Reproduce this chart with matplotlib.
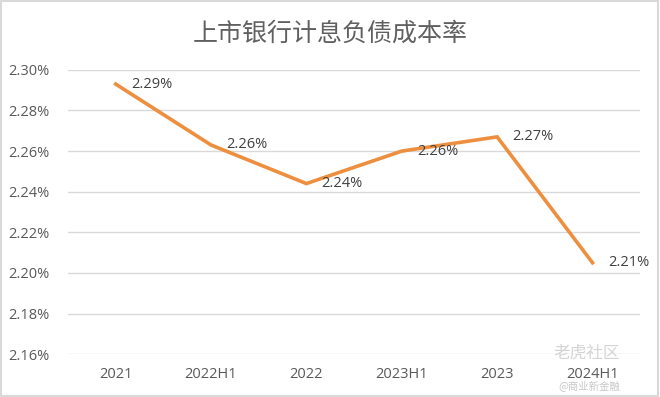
import matplotlib.pyplot as plt
from matplotlib.patches import Rectangle
from matplotlib.ticker import FuncFormatter

plt.rcParams['font.family'] = ['Open Sans', 'Noto Sans CJK SC', 'DejaVu Sans']

periods = ["2021", "2022H1", "2022", "2023H1", "2023", "2024H1"]
rates = [2.293, 2.263, 2.244, 2.260, 2.267, 2.205]
y_ticks = [2.16, 2.18, 2.20, 2.22, 2.24, 2.26, 2.28, 2.30]

LINE = "#ED8F3F"
TEXT = "#595959"

fig = plt.figure(figsize=(6.6, 3.97), dpi=100)
ax = fig.add_axes([0.103, 0.108, 0.867, 0.716])

x = list(range(len(periods)))
ax.plot(x, rates, color=LINE, linewidth=2.6, solid_joinstyle="miter")

for xi, v in zip(x, rates):
    ax.annotate(f"{v:.2f}%", (xi, v), xytext=(11, 0), textcoords="offset points",
                ha="left", va="center", fontsize=10.5, color="#404040")

ax.set_xlim(-0.5, len(periods) - 0.5)
ax.set_ylim(2.16, 2.30)
ax.set_yticks(y_ticks)
ax.yaxis.set_major_formatter(FuncFormatter(lambda v, p: f"{v:.2f}%"))
ax.set_xticks(x)
ax.set_xticklabels(periods)
ax.tick_params(length=0, labelsize=10.5, colors=TEXT, pad=9)
ax.tick_params(axis="y", pad=13)
ax.grid(axis="y", color="#d9d9d9", linewidth=1)
ax.set_axisbelow(True)
for s in ax.spines.values():
    s.set_visible(False)

fig.text(0.5, 0.915, "上市银行计息负债成本率", ha="center", va="center",
         fontsize=18, color="#606060", family=['Noto Sans CJK SC', 'DejaVu Sans'])

# watermark
fig.text(0.94, 0.11, "老虎社区", ha="right", va="center", fontsize=12,
         color="#d4d4d4", family=['Noto Sans CJK SC', 'DejaVu Sans'])
fig.text(0.94, 0.028, "@商业新金融", ha="right", va="center", fontsize=7.5,
         color="#c8c8c8", family=['Noto Sans CJK SC', 'DejaVu Sans'])

fig.patches.append(Rectangle((0.002, 0.003), 0.995, 0.994, transform=fig.transFigure,
                             fill=False, edgecolor="#d9d9d9", linewidth=1.5))

fig.savefig("out.png", dpi=100)
